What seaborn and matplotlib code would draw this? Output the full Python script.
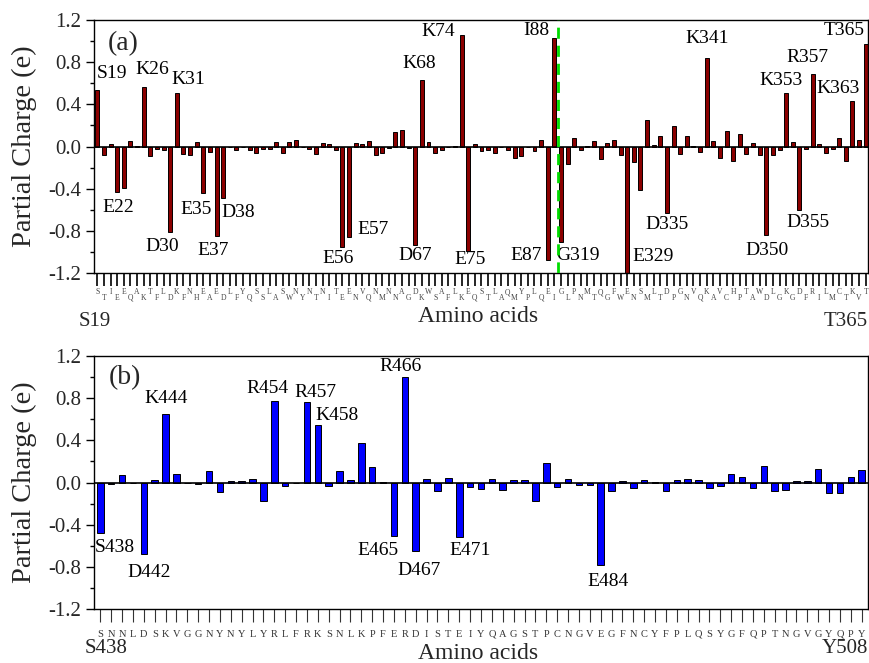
import matplotlib
matplotlib.use("Agg")
import matplotlib.pyplot as plt
import seaborn as sns
import pandas as pd
from matplotlib.ticker import MultipleLocator, FormatStrFormatter

# ---------------- data ----------------
# Panel (a): ACE2 residues S19-I88 and G319-T365
seq_a1 = list("STIEEQAKTFLDKFNHEAEDLFYQSSLASWNYNTNITEENVQNMNNAGDKWSAFLKEQSTLAQMYPLQEI")
start_a1 = 19
seq_a2 = list("GLPNMTQGFWENSMLTDPGNVQKAVCHPTAWDLGKGDFRILMCTKVT")
start_a2 = 319
charge_a = [
    0.54, -0.08, 0.02, -0.43, -0.39, 0.05, 0.005, 0.56, -0.09, -0.02,
    -0.03, -0.81, 0.51, -0.07, -0.08, 0.04, -0.44, -0.05, -0.85, -0.49,
    0.0, -0.03, 0.0, -0.03, -0.06, -0.02, -0.02, 0.04, -0.06, 0.04,
    0.06, 0.0, -0.02, -0.07, 0.03, 0.02, -0.03, -0.95, -0.86, 0.035,
    0.025, 0.05, -0.08, -0.06, -0.01, 0.14, 0.16, -0.01, -0.93, 0.63,
    0.04, -0.06, -0.03, 0.0, 0.005, 1.06, -0.99, 0.02, -0.04, -0.035,
    -0.06, -0.005, -0.03, -0.11, -0.09, 0.0, -0.04, 0.06, -1.08, 1.03,
    -0.91, -0.17, 0.08, -0.03, 0.005, 0.05, -0.12, 0.03, 0.06, -0.08,
    -1.21, -0.15, -0.41, 0.25, 0.01, 0.10, -0.63, 0.19, -0.07, 0.095,
    0.005, -0.05, 0.84, 0.05, -0.11, 0.15, -0.14, 0.12, -0.07, 0.03,
    -0.08, -0.84, -0.08, -0.03, 0.51, 0.045, -0.60, -0.025, 0.69, 0.02,
    -0.06, -0.02, 0.08, -0.14, 0.43, 0.06, 0.97,
]
labels_a = ["S19", "E22", "K26", "D30", "K31", "E35", "E37", "D38", "E56", "E57",
            "D67", "K68", "K74", "E75", "E87", "I88", "G319", "E329", "D335",
            "K341", "D350", "K353", "D355", "R357", "K363", "T365"]

# Panel (b): RBD residues S438-Y508
seq_b = list("SNNLDSKVGGNYNYLYRLFRKSNLKPFERDISTEIYQAGSTPCNGVEGFNCYFPLQSYGFQPTNGVGYQPY")
start_b = 438
charge_b = [
    -0.48, -0.015, 0.07, -0.005, -0.68, 0.02, 0.65, 0.08, 0.0, -0.015,
    0.11, -0.09, 0.01, 0.01, 0.03, -0.18, 0.77, -0.03, 0.0, 0.76,
    0.55, -0.035, 0.11, 0.02, 0.37, 0.15, 0.005, -0.51, 1.00, -0.65,
    0.035, -0.08, 0.045, -0.52, -0.04, -0.06, 0.03, -0.075, 0.025, 0.02,
    -0.18, 0.185, -0.04, 0.03, -0.02, -0.025, -0.78, -0.08, 0.015, -0.05,
    0.025, 0.005, -0.085, 0.02, 0.035, 0.02, -0.055, -0.03, 0.08, 0.05,
    -0.05, 0.16, -0.08, -0.075, 0.015, 0.01, 0.13, -0.10, -0.095, 0.055,
    0.12,
]
labels_b = ["S438", "D442", "K444", "R454", "R457", "K458", "E465", "R466",
            "D467", "E471", "E484"]

# ---------------- label placement (pixel offsets from bar end) ----------------
offs_a = {"S19": (15, 16), "E22": (1, -16), "K26": (9, 18), "D30": (-8, -15),
          "K31": (11, 13), "E35": (-7, -17), "E37": (-3, -14), "D38": (15, -14),
          "E56": (-4, -12), "E57": (24, 8), "D67": (0, -11), "K68": (-3, 17),
          "K74": (-23, 3), "E75": (2, -9), "E87": (-22, 5), "I88": (-18, 7),
          "G319": (17, -13), "E329": (26, 18), "D335": (0, -12), "K341": (0, 19),
          "D350": (1, -15), "K353": (-5, 12), "D355": (9, -13), "R357": (-5, 16),
          "K363": (-14, 13), "T365": (-21, 14)}
offs_b = {"S438": (15, -14), "D442": (5, -18), "K444": (1, 15), "R454": (-7, 13),
          "R457": (8, 10), "K458": (19, 9), "E465": (-16, -14), "R466": (-4, 11),
          "D467": (3, -19), "E471": (11, -13), "E484": (7, -17)}

ids_a = [f"{aa}{start_a1 + k}" for k, aa in enumerate(seq_a1)] + \
        [f"{aa}{start_a2 + k}" for k, aa in enumerate(seq_a2)]
letters_a = seq_a1 + seq_a2
ids_b = [f"{aa}{start_b + k}" for k, aa in enumerate(seq_b)]
letters_b = seq_b

df_a = pd.DataFrame({"res": ids_a, "charge": charge_a})
df_b = pd.DataFrame({"res": ids_b, "charge": charge_b})

# ---------------- style ----------------
sns.set_theme(style="ticks")
plt.rcParams["font.family"] = ["Liberation Serif", "DejaVu Serif"]
plt.rcParams["axes.linewidth"] = 1.0
plt.rcParams["axes.edgecolor"] = "black"

fig = plt.figure(figsize=(8.7, 6.63), dpi=100)
W, H = 870, 663
ax1 = fig.add_axes([94 / W, 1 - 273 / H, 774 / W, 253 / H])
ax2 = fig.add_axes([94 / W, 1 - 609 / H, 774 / W, 253 / H])

sns.barplot(data=df_a, x="res", y="charge", order=ids_a, color="#8B0000",
            saturation=1, edgecolor="black", linewidth=0.7, width=0.6, ax=ax1)
sns.barplot(data=df_b, x="res", y="charge", order=ids_b, color="#0000FF",
            saturation=1, edgecolor="black", linewidth=0.7, width=0.6, ax=ax2)

ax1.set_xlim(-0.5, len(ids_a) - 0.65)
ax2.set_xlim(-0.58, len(ids_b) - 0.42)

for ax in (ax1, ax2):
    ax.set_ylim(-1.2, 1.2)
    ax.yaxis.set_major_locator(MultipleLocator(0.4))
    ax.yaxis.set_minor_locator(MultipleLocator(0.2))
    ax.yaxis.set_major_formatter(FormatStrFormatter("%.1f"))
    ax.axhline(0, color="black", lw=1.2, zorder=3)
    ax.set_ylabel("Partial Charge (e)", fontsize=20.5)
    ax.yaxis.set_label_coords(-0.074, 0.5)
    ax.set_xlabel("")
    ax.tick_params(axis="y", which="major", length=6, width=1.0, direction="out",
                   labelsize=15, pad=3, color="black")
    ax.tick_params(axis="y", which="minor", length=3, width=1.0, direction="out",
                   color="black")
    for s in ax.spines.values():
        s.set_visible(True)
        s.set_color("black")
        s.set_linewidth(1.0)

# x tick letters
ax1.set_xticks(range(len(ids_a)))
ax1.set_xticklabels(letters_a, fontsize=5.5, color="#444444")
ax1.tick_params(axis="x", length=9, width=1.2, direction="out", pad=2, color="black")
for k, t in enumerate(ax1.xaxis.get_major_ticks()):
    if k % 2 == 1:
        t.set_pad(6.0)

ax2.set_xticks(range(len(ids_b)))
ax2.set_xticklabels(letters_b, fontsize=7.5, color="#333333")
ax2.tick_params(axis="x", length=9, width=0.8, direction="out", pad=6, color="#333333")

# green dashed separator between I88 and G319
ax1.axvline(len(seq_a1) - 0.5, color="#00DD00", ls=(0, (4, 2.5)), lw=2, zorder=4)

# residue labels
for ax, ids, vals, labs, offs in ((ax1, ids_a, charge_a, labels_a, offs_a),
                                  (ax2, ids_b, charge_b, labels_b, offs_b)):
    for lab in labs:
        i = ids.index(lab)
        dx, dy = offs[lab]
        ax.annotate(lab, xy=(i, vals[i]), xytext=(dx, dy), textcoords="offset pixels",
                    ha="center", va="center", fontsize=14, color="black",
                    annotation_clip=False)

# panel letters
ax1.text(0.038, 0.905, "(a)", transform=ax1.transAxes, ha="center", va="center", fontsize=20)
ax2.text(0.040, 0.915, "(b)", transform=ax2.transAxes, ha="center", va="center", fontsize=20)

# range markers and axis titles
ax1.text(-0.02, -0.19, "S19", transform=ax1.transAxes, ha="left", va="center", fontsize=15)
ax1.text(1.0, -0.19, "T365", transform=ax1.transAxes, ha="right", va="center", fontsize=15)
ax1.text(0.496, -0.17, "Amino acids", transform=ax1.transAxes, ha="center", va="center", fontsize=17)

ax2.text(-0.012, -0.158, "S438", transform=ax2.transAxes, ha="left", va="center", fontsize=15)
ax2.text(1.0, -0.158, "Y508", transform=ax2.transAxes, ha="right", va="center", fontsize=15)
ax2.text(0.496, -0.176, "Amino acids", transform=ax2.transAxes, ha="center", va="center", fontsize=17)

fig.savefig("out.png", dpi=100)
